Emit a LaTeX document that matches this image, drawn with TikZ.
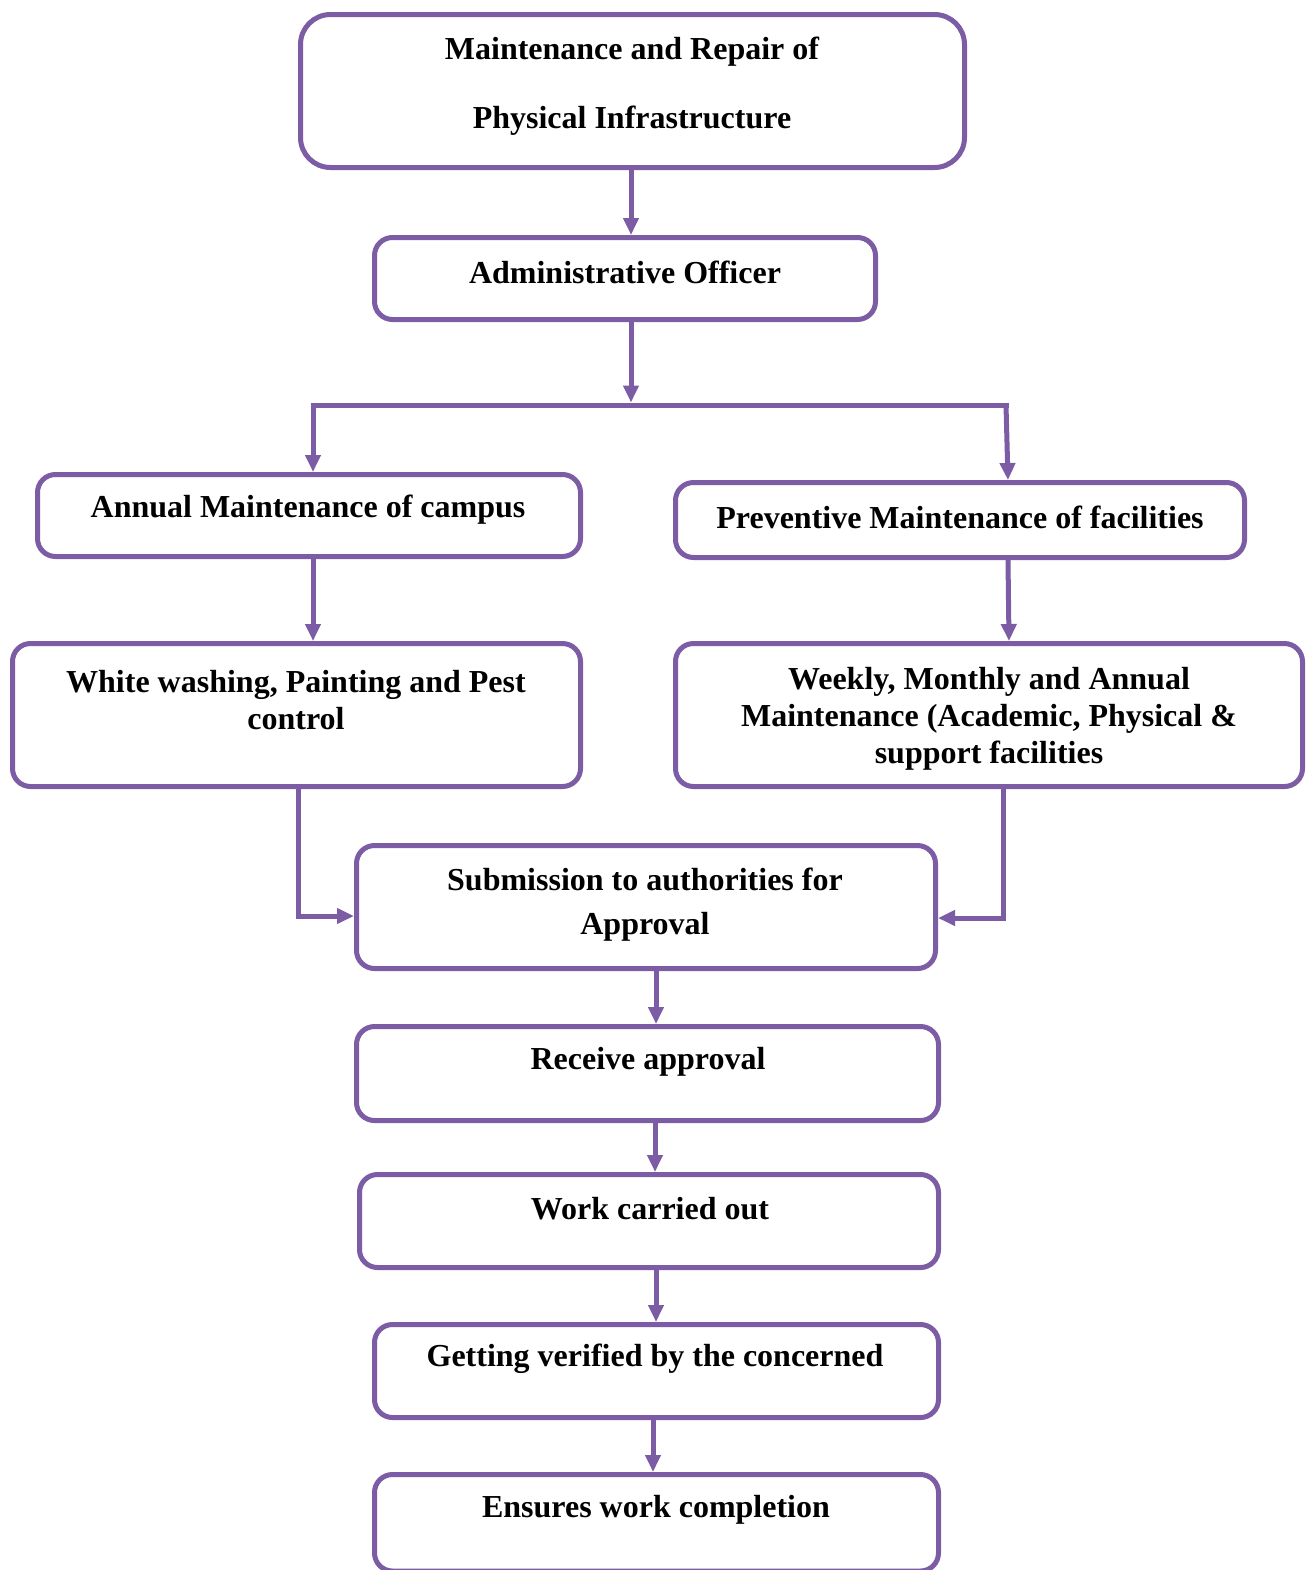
\documentclass[tikz,border=0pt]{standalone}
\usepackage{fontspec}
\setmainfont{Liberation Serif}
\usetikzlibrary{arrows.meta,calc}
\definecolor{flowpurple}{HTML}{7B5CA5}
\begin{document}
\begin{tikzpicture}[x=0.5pt,y=-0.5pt,
  box/.style={draw=flowpurple,line width=2.5pt,rounded corners=9pt,fill=white,inner sep=0pt},
  lbl/.style={align=center,inner sep=0pt,font=\bfseries\fontsize{16}{18.5}\selectfont},
  wire/.style={draw=flowpurple,line width=2.5pt},
  arr/.style={wire,-{Triangle[width=7.5pt,length=8.5pt]}}]
\useasboundingbox (0,0) rectangle (1314,1570);

% boxes
\node[box,rounded corners=15pt,minimum width=332pt,minimum height=76.5pt] (b1) at (632.5,91) {};
\node[box,minimum width=250.5pt,minimum height=41pt] (b2) at (625,278.5) {};
\node[box,minimum width=271.5pt,minimum height=41pt] (b3) at (309,515.5) {};
\node[box,minimum width=284.5pt,minimum height=37.5pt] (b4) at (960,520) {};
\node[box,minimum width=284pt,minimum height=71.5pt] (b5) at (296.5,715) {};
\node[box,minimum width=313.5pt,minimum height=71.5pt] (b6) at (989,715) {};
\node[box,minimum width=289.5pt,minimum height=61.5pt] (b7) at (646,907) {};
\node[box,minimum width=291pt,minimum height=47pt] (b8) at (647.5,1073.5) {};
\node[box,minimum width=289.5pt,minimum height=46.5pt] (b9) at (649,1221) {};
\node[box,minimum width=282pt,minimum height=46.5pt] (b10) at (656.5,1371) {};
\node[box,minimum width=282pt,minimum height=48.25pt] (b11) at (656.5,1522.75) {};

% labels
\node[lbl,font=\bfseries\fontsize{16}{34.5}\selectfont] (t1) at (632,86) {Maintenance and Repair of\\Physical Infrastructure};
\node[lbl] (t2) at (625,272) {Administrative Officer};
\node[lbl] (t3) at (308,510) {Annual Maintenance of campus};
\node[lbl] (t4) at (960,517) {Preventive Maintenance of facilities};
\node[lbl] (t5) at (296,700) {White washing, Painting and Pest\\control};
\node[lbl] (t6) at (989,719) {Weekly, Monthly and Annual\\Maintenance (Academic, Physical \&\\support facilities};
\node[lbl,font=\bfseries\fontsize{16}{22}\selectfont] (t7) at (645,905) {Submission to authorities for\\Approval};
\node[lbl] (t8) at (648,1062) {Receive approval};
\node[lbl] (t9) at (650,1209) {Work carried out};
\node[lbl] (t10) at (655,1359) {Getting verified by the concerned};
\node[lbl] (t11) at (656,1510) {Ensures work completion};

% branch points
\coordinate (split) at (631,405);
\coordinate (jl) at (313,405);
\coordinate (jr) at (1006,405);
\coordinate (lt) at (298,916);
\coordinate (rt) at (1003,918);

% connectors
\draw[arr] ([xshift=-0.75pt]b1.south) -- ([xshift=-0.75pt]b1.south |- b2.north);
\draw[arr,shorten >=1.25pt] (split |- b2.south) -- (split);
\draw[wire] ([xshift=-1.25pt]jl) -- ([xshift=1.25pt]jr);
\draw[arr] (jl) -- (jl |- b3.north);
\draw[arr] (jr) -- ([xshift=1pt]jr |- b4.north);
\draw[arr] (jl |- b3.south) -- (jl |- b5.north);
\draw[arr] ([xshift=1pt]jr |- b4.south) -- ([xshift=1.5pt]jr |- b6.north);
\draw[arr] (lt |- b5.south) -- (lt) -- (lt -| b7.west);
\draw[arr] (rt |- b6.south) -- (rt) -- (rt -| b7.east);
\draw[arr] ([xshift=5pt]b7.south) -- ([xshift=5pt]b7.south |- b8.north);
\draw[arr] ([xshift=3.75pt]b8.south) -- ([xshift=3.75pt]b8.south |- b9.north);
\draw[arr] ([xshift=3.5pt]b9.south) -- ([xshift=3.5pt]b9.south |- b10.north);
\draw[arr] ([xshift=-1.75pt]b10.south) -- ([xshift=-1.75pt]b10.south |- b11.north);
\end{tikzpicture}
\end{document}
